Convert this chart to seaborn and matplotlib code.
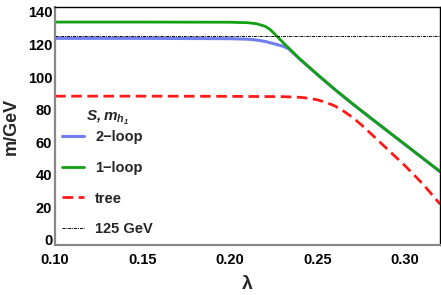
import numpy as np
import pandas as pd
import matplotlib
matplotlib.use("Agg")
import matplotlib.pyplot as plt
import seaborn as sns
from matplotlib.ticker import MultipleLocator

sns.set_style("white")
plt.rcParams['font.family'] = ['Liberation Sans', 'DejaVu Sans']
plt.rcParams['font.weight'] = 'bold'
plt.rcParams['mathtext.fontset'] = 'custom'
plt.rcParams['mathtext.it'] = 'Liberation Sans:bold:italic'
plt.rcParams['mathtext.rm'] = 'Liberation Sans:bold:italic'
plt.rcParams['mathtext.bf'] = 'Liberation Sans:bold'

# data
lam_green = [0.10, 0.15, 0.20, 0.21, 0.215, 0.22, 0.2225, 0.225, 0.23, 0.24, 0.25, 0.26,
             0.27, 0.28, 0.29, 0.30, 0.31, 0.32]
m_green = [133.8, 133.8, 133.7, 133.4, 132.8, 131.2, 129.5, 127.0, 121.5, 111.0, 101.5,
           92.3, 83.6, 75.2, 66.9, 58.6, 50.3, 42.0]

lam_blue = [0.10, 0.15, 0.20, 0.21, 0.215, 0.22, 0.225, 0.23, 0.2335, 0.24, 0.25, 0.26,
            0.27, 0.28, 0.29, 0.30, 0.31, 0.32]
m_blue = [123.8, 123.8, 123.6, 123.3, 122.8, 121.9, 120.5, 119.0, 117.4, 110.8, 101.4,
          92.2, 83.5, 75.1, 66.8, 58.5, 50.2, 41.9]

lam_red = [0.10, 0.15, 0.20, 0.23, 0.24, 0.245, 0.25, 0.255, 0.26, 0.265, 0.27, 0.275,
           0.28, 0.29, 0.30, 0.31, 0.32]
m_red = [88.3, 88.3, 88.2, 88.0, 87.6, 87.0, 86.0, 84.4, 82.2, 79.0, 75.2, 70.7,
         65.7, 55.6, 45.5, 34.5, 22.0]

lam_ref = [0.10, 0.32]
m_ref = [125.0, 125.0]

x_ticks = [0.10, 0.15, 0.20, 0.25, 0.30]
y_ticks = [0, 20, 40, 60, 80, 100, 120, 140]

fig = plt.figure(figsize=(4.41, 2.95), dpi=100)
ax = fig.add_axes([0.125, 0.17, 0.873, 0.806])

sns.lineplot(x=lam_blue, y=m_blue, ax=ax, color='#5566ee', lw=2.2, alpha=0.85,
             label='2\u2212loop', sort=False)
sns.lineplot(x=lam_green, y=m_green, ax=ax, color='#12a012', lw=2.0,
             label='1\u2212loop', sort=False)
sns.lineplot(x=lam_red, y=m_red, ax=ax, color='#ff1a1a', lw=2.0, dashes=(3.8, 2.0),
             label='tree', sort=False)
sns.lineplot(x=lam_ref, y=m_ref, ax=ax, color='black', lw=0.7, linestyle=(0, (3, 1, 1, 1)),
             label='125 GeV', sort=False)

ax.set_xlim(0.10, 0.32)
ax.set_ylim(-3, 143)
ax.set_xticks(x_ticks)
ax.set_xticklabels([f"{v:.2f}" for v in x_ticks])
ax.set_yticks(y_ticks)
ax.set_yticklabels([str(v) for v in y_ticks])
ax.xaxis.set_minor_locator(MultipleLocator(0.01))
ax.yaxis.set_minor_locator(MultipleLocator(5))
ax.tick_params(which='both', direction='in', labelsize=10.5, colors='#888888',
               labelcolor='black', top=False, right=False)
ax.tick_params(which='major', length=4, width=0.8)
ax.tick_params(which='minor', length=2, width=0.6)
ax.tick_params(axis='x', pad=6)
ax.tick_params(axis='y', pad=2)
for lab in ax.get_xticklabels() + ax.get_yticklabels():
    lab.set_fontweight('bold')

for s in ['left', 'bottom']:
    ax.spines[s].set_color('#888888')
    ax.spines[s].set_linewidth(1.6)
for s in ['top', 'right']:
    ax.spines[s].set_color('black')
    ax.spines[s].set_linewidth(1.0)

ax.set_xlabel('\u03bb', fontsize=14, fontweight='bold', labelpad=6)
ax.set_ylabel('m/GeV', fontsize=13, fontweight='bold', labelpad=6)

leg = ax.legend(loc='lower left', bbox_to_anchor=(0.0, 0.005), frameon=False,
                title=r'$S, m_{h_1}$', fontsize=10.5, title_fontsize=11,
                handlelength=1.5, labelspacing=1.15, handletextpad=0.75, borderpad=0.3,
                borderaxespad=0.2)
for t in leg.get_texts():
    t.set_fontweight('bold')
leg._legend_box.sep = 2

fig.savefig('out.png', dpi=100)
